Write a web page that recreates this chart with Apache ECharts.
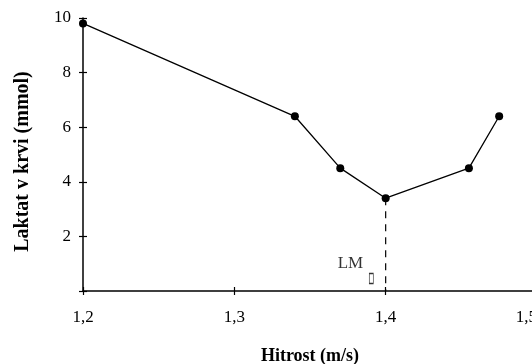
<!DOCTYPE html>
<html>
<head>
<meta charset="utf-8">
<script src="https://cdn.jsdelivr.net/npm/echarts@6/dist/echarts.min.js"></script>
<style>
  html, body { margin: 0; padding: 0; background: #fff; }
  #chart { width: 532px; height: 364px; }
</style>
</head>
<body>
<div id="chart"></div>
<script>
// measured points: speed (m/s) vs blood lactate (mmol)
const speed = [1.2, 1.34, 1.37, 1.4, 1.455, 1.475];
const lactate = [9.8, 6.4, 4.5, 3.4, 4.5, 6.4];
// LM marker (lactate minimum) sits on the 4th point
const lmIndex = 3;
const xTicks = [1.2, 1.3, 1.4, 1.5];
const yTicks = [0, 2, 4, 6, 8, 10];

const font = 'Liberation Serif';
const chart = echarts.init(document.getElementById('chart'));

const fmtX = v => v.toFixed(1).replace('.', ',');
const lmX = speed[lmIndex];
const lmY = lactate[lmIndex];

const axisX = {
  type: 'value',
  position: 'bottom',
  min: xTicks[0],
  max: xTicks[xTicks.length - 1],
  interval: 0.1,
  splitLine: { show: false }
};
const axisY = {
  type: 'value',
  position: 'left',
  min: yTicks[0],
  max: yTicks[yTicks.length - 1],
  interval: 2,
  splitLine: { show: false }
};

const option = {
  animation: false,
  grid: { left: 83, right: -5, top: 18, bottom: 73, outerBoundsMode: 'none', containLabel: false },
  xAxis: [
    {
      ...axisX,
      name: 'Hitrost (m/s)',
      nameLocation: 'middle',
      nameGap: 56,
      nameTextStyle: { fontFamily: font, fontWeight: 'bold', fontSize: 18, color: '#000' },
      axisLine: { lineStyle: { color: '#000', width: 1.5 } },
      axisTick: { inside: false, length: 4, lineStyle: { color: '#000', width: 1.2 } },
      axisLabel: {
        fontFamily: font, fontSize: 17, color: '#000', margin: 18,
        alignMaxLabel: 'right', formatter: fmtX
      }
    },
    {
      ...axisX,
      axisLine: { show: false },
      axisTick: { inside: true, length: 4, lineStyle: { color: '#000', width: 1.2 } },
      axisLabel: { show: false }
    }
  ],
  yAxis: [
    {
      ...axisY,
      name: 'Laktat v krvi (mmol)',
      nameLocation: 'middle',
      nameGap: 50,
      nameTextStyle: {
        fontFamily: font, fontWeight: 'bold', fontSize: 20, color: '#000',
        padding: [0, 14, 0, 0]
      },
      axisLine: { lineStyle: { color: '#000', width: 1.5 } },
      axisTick: { inside: false, length: 4, lineStyle: { color: '#000', width: 1.2 } },
      axisLabel: {
        fontFamily: font, fontSize: 17, color: '#000', margin: 12,
        formatter: v => (v === 0 ? '' : String(v))
      }
    },
    {
      ...axisY,
      axisLine: { show: false },
      axisTick: { inside: true, length: 4, lineStyle: { color: '#000', width: 1.2 } },
      axisLabel: { show: false }
    }
  ],
  series: [
    {
      type: 'line',
      data: speed.map((x, i) => [x, lactate[i]]),
      symbol: 'circle',
      symbolSize: 8,
      itemStyle: { color: '#000' },
      lineStyle: { color: '#000', width: 1.3 },
      z: 5
    },
    {
      // dashed drop line at LM
      type: 'line',
      data: [[lmX, lmY], [lmX, 0]],
      symbol: 'none',
      lineStyle: { color: '#000', width: 1.2, type: [7, 6] },
      z: 3
    },
    {
      type: 'scatter',
      data: [[lmX - 0.0233, 1.0]],
      symbolSize: 0,
      label: {
        show: true,
        position: 'inside',
        formatter: 'LM',
        fontFamily: font,
        fontSize: 17,
        color: '#000'
      }
    },
    {
      type: 'scatter',
      data: [[lmX - 0.0095, 0.46]],
      symbol: 'rect',
      symbolSize: [4, 10],
      itemStyle: { color: 'rgba(0,0,0,0)', borderColor: '#000', borderWidth: 1 }
    }
  ]
};

chart.setOption(option);
</script>
</body>
</html>
